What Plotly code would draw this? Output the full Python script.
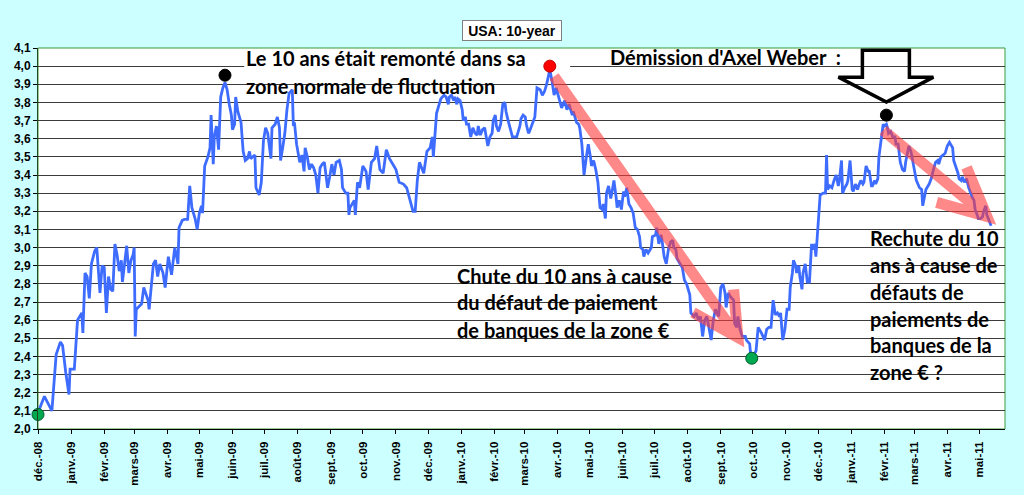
import plotly.graph_objects as go

# US 10-year yield (dates, %)
dates = [
    "2008-12-01", "2008-12-07", "2008-12-14", "2008-12-18", "2008-12-22", "2008-12-24", "2008-12-27", "2008-12-30",
    "2008-12-31", "2009-01-04", "2009-01-07", "2009-01-09", "2009-01-11", "2009-01-12", "2009-01-14", "2009-01-16",
    "2009-01-18", "2009-01-20", "2009-01-21", "2009-01-23", "2009-01-25", "2009-01-28", "2009-01-30", "2009-02-01",
    "2009-02-03", "2009-02-05", "2009-02-07", "2009-02-09", "2009-02-11", "2009-02-13", "2009-02-15", "2009-02-17",
    "2009-02-18", "2009-02-19", "2009-02-22", "2009-02-24", "2009-02-26", "2009-02-28", "2009-03-01", "2009-03-02",
    "2009-03-03", "2009-03-08", "2009-03-10", "2009-03-14", "2009-03-15", "2009-03-19", "2009-03-21", "2009-03-23",
    "2009-03-25", "2009-03-28", "2009-03-30", "2009-04-02", "2009-04-05", "2009-04-07", "2009-04-08", "2009-04-11",
    "2009-04-12", "2009-04-15", "2009-04-19", "2009-04-20", "2009-04-22", "2009-04-24", "2009-04-27", "2009-04-29",
    "2009-05-01", "2009-05-03", "2009-05-04", "2009-05-06", "2009-05-09", "2009-05-11", "2009-05-12", "2009-05-14",
    "2009-05-15", "2009-05-17", "2009-05-19", "2009-05-21", "2009-05-23", "2009-05-25", "2009-05-27", "2009-05-29",
    "2009-05-31", "2009-06-01", "2009-06-03", "2009-06-04", "2009-06-06", "2009-06-08", "2009-06-09", "2009-06-11",
    "2009-06-13", "2009-06-15", "2009-06-17", "2009-06-18", "2009-06-20", "2009-06-22", "2009-06-23", "2009-06-26",
    "2009-06-28", "2009-06-30", "2009-07-02", "2009-07-04", "2009-07-07", "2009-07-08", "2009-07-11", "2009-07-13",
    "2009-07-15", "2009-07-16", "2009-07-18", "2009-07-20", "2009-07-22", "2009-07-24", "2009-07-27", "2009-07-28",
    "2009-07-29", "2009-07-31", "2009-08-03", "2009-08-05", "2009-08-07", "2009-08-08", "2009-08-10", "2009-08-12",
    "2009-08-14", "2009-08-16", "2009-08-18", "2009-08-20", "2009-08-22", "2009-08-24", "2009-08-26", "2009-08-29",
    "2009-08-31", "2009-09-02", "2009-09-04", "2009-09-06", "2009-09-09", "2009-09-11", "2009-09-12", "2009-09-15",
    "2009-09-17", "2009-09-18", "2009-09-19", "2009-09-23", "2009-09-24", "2009-09-26", "2009-09-28", "2009-10-01",
    "2009-10-04", "2009-10-06", "2009-10-09", "2009-10-12", "2009-10-14", "2009-10-17", "2009-10-20", "2009-10-23",
    "2009-10-26", "2009-10-29", "2009-11-01", "2009-11-04", "2009-11-08", "2009-11-11", "2009-11-14", "2009-11-17",
    "2009-11-19", "2009-11-21", "2009-11-23", "2009-11-25", "2009-11-27", "2009-11-29", "2009-11-30", "2009-12-03",
    "2009-12-05", "2009-12-06", "2009-12-07", "2009-12-09", "2009-12-12", "2009-12-13", "2009-12-16", "2009-12-18",
    "2009-12-20", "2009-12-21", "2009-12-23", "2009-12-25", "2009-12-26", "2009-12-28", "2009-12-29", "2009-12-31",
    "2010-01-02", "2010-01-03", "2010-01-05", "2010-01-06", "2010-01-08", "2010-01-10", "2010-01-12", "2010-01-14",
    "2010-01-16", "2010-01-17", "2010-01-19", "2010-01-21", "2010-01-23", "2010-01-26", "2010-01-28", "2010-01-30",
    "2010-01-31", "2010-02-02", "2010-02-03", "2010-02-05", "2010-02-07", "2010-02-09", "2010-02-11", "2010-02-12",
    "2010-02-14", "2010-02-16", "2010-02-18", "2010-02-20", "2010-02-22", "2010-02-25", "2010-02-26", "2010-02-28",
    "2010-03-02", "2010-03-03", "2010-03-05", "2010-03-06", "2010-03-08", "2010-03-09", "2010-03-11", "2010-03-13",
    "2010-03-16", "2010-03-18", "2010-03-20", "2010-03-22", "2010-03-24", "2010-03-25", "2010-03-27", "2010-03-29",
    "2010-03-31", "2010-04-03", "2010-04-05", "2010-04-08", "2010-04-10", "2010-04-12", "2010-04-15", "2010-04-16",
    "2010-04-19", "2010-04-21", "2010-04-22", "2010-04-24", "2010-04-26", "2010-04-28", "2010-04-30", "2010-05-02",
    "2010-05-03", "2010-05-05", "2010-05-07", "2010-05-09", "2010-05-11", "2010-05-13", "2010-05-14", "2010-05-16",
    "2010-05-17", "2010-05-19", "2010-05-21", "2010-05-22", "2010-05-24", "2010-05-26", "2010-05-27", "2010-05-29",
    "2010-05-31", "2010-06-02", "2010-06-03", "2010-06-05", "2010-06-07", "2010-06-09", "2010-06-11", "2010-06-13",
    "2010-06-15", "2010-06-17", "2010-06-18", "2010-06-20", "2010-06-21", "2010-06-23", "2010-06-25", "2010-06-28",
    "2010-06-29", "2010-07-02", "2010-07-03", "2010-07-05", "2010-07-07", "2010-07-08", "2010-07-10", "2010-07-12",
    "2010-07-14", "2010-07-16", "2010-07-18", "2010-07-19", "2010-07-21", "2010-07-22", "2010-07-25", "2010-07-27",
    "2010-07-29", "2010-07-31", "2010-08-03", "2010-08-04", "2010-08-07", "2010-08-09", "2010-08-11", "2010-08-13",
    "2010-08-15", "2010-08-17", "2010-08-19", "2010-08-21", "2010-08-23", "2010-08-25", "2010-08-27", "2010-08-30",
    "2010-09-01", "2010-09-03", "2010-09-05", "2010-09-06", "2010-09-08", "2010-09-10", "2010-09-13", "2010-09-14",
    "2010-09-16", "2010-09-17", "2010-09-19", "2010-09-21", "2010-09-24", "2010-09-25", "2010-09-27", "2010-09-28",
    "2010-09-29", "2010-10-01", "2010-10-04", "2010-10-06", "2010-10-09", "2010-10-12", "2010-10-14", "2010-10-16",
    "2010-10-18", "2010-10-20", "2010-10-22", "2010-10-24", "2010-10-26", "2010-10-27", "2010-10-29", "2010-10-31",
    "2010-11-02", "2010-11-04", "2010-11-05", "2010-11-07", "2010-11-08", "2010-11-10", "2010-11-11", "2010-11-13",
    "2010-11-14", "2010-11-16", "2010-11-17", "2010-11-19", "2010-11-21", "2010-11-23", "2010-11-25", "2010-11-26",
    "2010-11-28", "2010-11-29", "2010-12-01", "2010-12-02", "2010-12-03", "2010-12-06", "2010-12-08", "2010-12-09",
    "2010-12-10", "2010-12-12", "2010-12-14", "2010-12-16", "2010-12-18", "2010-12-20", "2010-12-21", "2010-12-23",
    "2010-12-24", "2010-12-26", "2010-12-28", "2010-12-29", "2010-12-31", "2011-01-02", "2011-01-03", "2011-01-05",
    "2011-01-07", "2011-01-08", "2011-01-10", "2011-01-12", "2011-01-13", "2011-01-15", "2011-01-17", "2011-01-18",
    "2011-01-20", "2011-01-21", "2011-01-23", "2011-01-24", "2011-01-26", "2011-01-27", "2011-01-29", "2011-01-31",
    "2011-02-01", "2011-02-03", "2011-02-04", "2011-02-05", "2011-02-07", "2011-02-09", "2011-02-11", "2011-02-12",
    "2011-02-14", "2011-02-15", "2011-02-16", "2011-02-18", "2011-02-20", "2011-02-21", "2011-02-23", "2011-02-24",
    "2011-02-26", "2011-02-27", "2011-02-28", "2011-03-02", "2011-03-03", "2011-03-06", "2011-03-08", "2011-03-09",
    "2011-03-11", "2011-03-12", "2011-03-15", "2011-03-17", "2011-03-19", "2011-03-21", "2011-03-23", "2011-03-24",
    "2011-03-26", "2011-03-28", "2011-03-30", "2011-04-01", "2011-04-03", "2011-04-04", "2011-04-06", "2011-04-07",
    "2011-04-09", "2011-04-11", "2011-04-12", "2011-04-14", "2011-04-15", "2011-04-17", "2011-04-19", "2011-04-21",
    "2011-04-23", "2011-04-24", "2011-04-26", "2011-04-27", "2011-04-29", "2011-04-30", "2011-05-02", "2011-05-04",
    "2011-05-05", "2011-05-07", "2011-05-08", "2011-05-10", "2011-05-12",
]
yields = [
    2.09, 2.18, 2.10, 2.41, 2.48, 2.46, 2.31, 2.19,
    2.33, 2.33, 2.60, 2.62, 2.64, 2.53, 2.86, 2.84,
    2.72, 2.91, 2.93, 2.98, 3.00, 2.75, 2.90, 2.89,
    2.64, 2.84, 2.77, 2.76, 3.02, 2.96, 2.87, 2.93,
    2.81, 2.86, 3.01, 2.86, 2.93, 2.96, 3.00, 2.51,
    2.66, 2.69, 2.78, 2.71, 2.66, 2.91, 2.93, 2.84,
    2.91, 2.86, 2.78, 2.95, 2.85, 2.95, 3.00, 2.91,
    3.11, 3.15, 3.16, 3.15, 3.34, 3.22, 3.16, 3.10,
    3.19, 3.23, 3.19, 3.45, 3.50, 3.55, 3.73, 3.46,
    3.61, 3.67, 3.54, 3.83, 3.88, 3.91, 3.87, 3.79,
    3.73, 3.65, 3.68, 3.83, 3.75, 3.71, 3.69, 3.53,
    3.48, 3.49, 3.53, 3.49, 3.50, 3.51, 3.33, 3.29,
    3.36, 3.59, 3.66, 3.63, 3.49, 3.66, 3.68, 3.72,
    3.66, 3.48, 3.55, 3.63, 3.76, 3.85, 3.87, 3.67,
    3.69, 3.57, 3.47, 3.51, 3.42, 3.55, 3.50, 3.43,
    3.46, 3.44, 3.40, 3.30, 3.44, 3.46, 3.47, 3.33,
    3.39, 3.46, 3.40, 3.47, 3.48, 3.43, 3.33, 3.30,
    3.30, 3.18, 3.22, 3.26, 3.18, 3.36, 3.33, 3.45,
    3.42, 3.32, 3.47, 3.49, 3.56, 3.43, 3.41, 3.54,
    3.49, 3.46, 3.43, 3.36, 3.35, 3.33, 3.26, 3.20,
    3.20, 3.37, 3.47, 3.44, 3.41, 3.49, 3.53, 3.55,
    3.61, 3.50, 3.59, 3.74, 3.80, 3.82, 3.84, 3.83,
    3.79, 3.83, 3.84, 3.81, 3.83, 3.79, 3.82, 3.81,
    3.76, 3.70, 3.72, 3.68, 3.68, 3.61, 3.66, 3.63,
    3.62, 3.67, 3.62, 3.65, 3.66, 3.56, 3.61, 3.63,
    3.70, 3.73, 3.67, 3.64, 3.68, 3.79, 3.80, 3.75,
    3.70, 3.65, 3.61, 3.61, 3.61, 3.67, 3.71, 3.73,
    3.72, 3.68, 3.63, 3.64, 3.67, 3.69, 3.72, 3.88,
    3.87, 3.84, 3.86, 3.90, 3.96, 3.98, 3.92, 3.84,
    3.88, 3.81, 3.77, 3.81, 3.76, 3.79, 3.73, 3.75,
    3.69, 3.68, 3.66, 3.57, 3.40, 3.49, 3.57, 3.50,
    3.45, 3.48, 3.43, 3.36, 3.22, 3.21, 3.24, 3.16,
    3.30, 3.34, 3.27, 3.30, 3.37, 3.28, 3.22, 3.26,
    3.21, 3.31, 3.28, 3.33, 3.24, 3.22, 3.19, 3.11,
    3.10, 3.06, 3.00, 2.99, 2.95, 2.99, 2.97, 3.00,
    3.06, 3.07, 3.11, 3.02, 3.07, 3.04, 2.95, 2.91,
    2.99, 3.03, 3.04, 3.00, 2.99, 2.94, 2.91, 2.89,
    2.82, 2.80, 2.74, 2.64, 2.62, 2.64, 2.60, 2.62,
    2.51, 2.60, 2.62, 2.56, 2.49, 2.60, 2.66, 2.62,
    2.78, 2.80, 2.75, 2.67, 2.75, 2.73, 2.71, 2.58,
    2.56, 2.62, 2.55, 2.51, 2.51, 2.49, 2.48, 2.47,
    2.41, 2.40, 2.43, 2.56, 2.53, 2.49, 2.55, 2.56,
    2.56, 2.71, 2.63, 2.64, 2.62, 2.64, 2.49, 2.55,
    2.66, 2.66, 2.78, 2.86, 2.93, 2.90, 2.86, 2.90,
    2.84, 2.77, 2.86, 2.91, 2.81, 2.81, 3.02, 2.99,
    3.02, 2.95, 3.12, 3.23, 3.29, 3.30, 3.30, 3.51,
    3.32, 3.34, 3.33, 3.37, 3.40, 3.34, 3.37, 3.48,
    3.30, 3.33, 3.35, 3.37, 3.48, 3.32, 3.31, 3.35,
    3.32, 3.34, 3.37, 3.35, 3.36, 3.45, 3.42, 3.42,
    3.34, 3.34, 3.37, 3.35, 3.38, 3.50, 3.60, 3.68,
    3.67, 3.68, 3.66, 3.63, 3.64, 3.61, 3.61, 3.57,
    3.57, 3.53, 3.47, 3.43, 3.42, 3.47, 3.52, 3.56,
    3.53, 3.50, 3.45, 3.41, 3.37, 3.33, 3.32, 3.23,
    3.28, 3.32, 3.35, 3.38, 3.43, 3.47, 3.48, 3.46,
    3.50, 3.51, 3.52, 3.56, 3.58, 3.57, 3.55, 3.48,
    3.45, 3.41, 3.38, 3.37, 3.39, 3.36, 3.38, 3.33,
    3.30, 3.28, 3.26, 3.21, 3.18, 3.16, 3.16, 3.17,
    3.20, 3.23, 3.18, 3.15, 3.12,
]

# highlighted points: start, first peak, high, low, Weber resignation
dot_dates = ["2008-12-01", "2009-05-25", "2010-03-25", "2010-09-30", "2011-02-03"]
dot_values = [2.08, 3.95, 4.00, 2.39, 3.73]
dot_fill = ["#00A84F", "black", "#FF0000", "#00A84F", "black"]
dot_edge = ["#005A2A", "black", "#C00000", "#005A2A", "black"]

month_ticks = [
    "2008-12-01", "2009-01-01", "2009-02-01", "2009-03-01", "2009-04-01", "2009-05-01",
    "2009-06-01", "2009-07-01", "2009-08-01", "2009-09-01", "2009-10-01", "2009-11-01",
    "2009-12-01", "2010-01-01", "2010-02-01", "2010-03-01", "2010-04-01", "2010-05-01",
    "2010-06-01", "2010-07-01", "2010-08-01", "2010-09-01", "2010-10-01", "2010-11-01",
    "2010-12-01", "2011-01-01", "2011-02-01", "2011-03-01", "2011-04-01", "2011-05-01",
]
month_labels = [
    "déc.-08", "janv.-09", "févr.-09", "mars-09", "avr.-09", "mai-09",
    "juin-09", "juil.-09", "août-09", "sept.-09", "oct.-09", "nov.-09",
    "déc.-09", "janv.-10", "févr.-10", "mars-10", "avr.-10", "mai-10",
    "juin-10", "juil.-10", "août-10", "sept.-10", "oct.-10", "nov.-10",
    "déc.-10", "janv.-11", "févr.-11", "mars-11", "avr.-11", "mai-11",
]

# comment boxes, one entry per text line: (left date, y level, text)
notes = [
    ("2009-06-12", 4.046, "Le 10 ans était remonté dans sa"),
    ("2009-06-12", 3.889, "zone normale de fluctuation"),
    ("2010-05-18", 4.049, "Démission d'Axel Weber\u00a0 :"),
    ("2009-12-26", 2.843, "Chute du 10 ans à cause"),
    ("2009-12-26", 2.700, "du défaut de paiement"),
    ("2009-12-26", 2.546, "de banques de la zone €"),
    ("2011-01-17", 3.052, "Rechute du 10"),
    ("2011-01-17", 2.904, "ans à cause de"),
    ("2011-01-17", 2.755, "défauts de"),
    ("2011-01-17", 2.607, "paiements de"),
    ("2011-01-17", 2.464, "banques de la"),
    ("2011-01-17", 2.315, "zone € ?"),
]

# red trend arrows: tail, tip and the two ends of the open head
arrow_tail = [("2010-03-29", 3.944), ("2011-01-31", 3.647)]
arrow_tip = [("2010-09-17", 2.505), ("2011-05-08", 3.172)]
arrow_wing_a = [("2010-08-06", 2.642), ("2011-03-22", 3.249)]
arrow_wing_b = [("2010-09-13", 2.769), ("2011-04-19", 3.442)]

fig = go.Figure()

fig.add_trace(go.Scatter(x=dates, y=yields, mode="lines",
                         line=dict(color="#3D6CFF", width=2.8),
                         hoverinfo="x+y", showlegend=False))

fig.add_trace(go.Scatter(x=dot_dates, y=dot_values, mode="markers",
                         marker=dict(size=12, color=dot_fill,
                                     line=dict(color=dot_edge, width=1)),
                         cliponaxis=False, showlegend=False))

for tail, tip, wa, wb in zip(arrow_tail, arrow_tip, arrow_wing_a, arrow_wing_b):
    p = "M{0[0]},{0[1]} L{1[0]},{1[1]} M{2[0]},{2[1]} L{1[0]},{1[1]} L{3[0]},{3[1]}".format(tail, tip, wa, wb)
    fig.add_shape(type="path", xref="x", yref="y", path=p,
                  line=dict(color="#FF3B3B", width=11), opacity=0.6, layer="above")

for x, y, txt in notes:
    fig.add_annotation(x=x, y=y, xref="x", yref="y", text=txt, showarrow=False,
                       xanchor="left", yanchor="middle",
                       font=dict(family="Lato", size=20, color="black", weight="bold"))

fig.add_annotation(x=0.4903, y=1.0464, xref="paper", yref="paper", text="USA: 10-year",
                   showarrow=False, xanchor="center", yanchor="middle",
                   font=dict(family="Liberation Sans", size=14, color="black", weight="bold"),
                   bgcolor="white", bordercolor="#808080", borderwidth=1, borderpad=1,
                   width=96, height=17)

# text box hiding the 4,0 gridline behind the first comment
fig.add_shape(type="rect", xref="x", yref="y", x0="2009-06-12", x1="2010-04-13",
              y0=3.978, y1=4.095, fillcolor="white", line_width=0, layer="between")

# hollow arrow pointing at the Weber point
fig.add_shape(type="path", xref="x", yref="y", xsizemode="pixel", ysizemode="pixel",
              xanchor=dot_dates[4], yanchor=dot_values[4],
              path="M-24,65 L23,65 L23,38 L47,38 L0,13 L-48,38 L-24,38 Z",
              line=dict(color="black", width=3.5), layer="above")

# green frame of the plot area
fig.add_shape(type="rect", xref="paper", yref="paper", x0=0, x1=1, y0=0, y1=1,
              line=dict(color="#3A9A3A", width=1), layer="below")

fig.update_layout(
    width=1024, height=495,
    margin=dict(l=38, r=19, t=48, b=66),
    paper_bgcolor="#CCFFFF", plot_bgcolor="white",
    separators=", ",
    showlegend=False,
    xaxis=dict(type="date", range=["2008-12-01", "2011-05-25"], automargin=False,
               tickmode="array", tickvals=month_ticks, ticktext=month_labels,
               tickangle=-90, ticks="outside", ticklen=4, tickcolor="black",
               showgrid=False, showline=True, linecolor="black", linewidth=1,
               ticklabelstandoff=3,
               tickfont=dict(family="Liberation Sans", size=11.5, color="black", weight="bold")),
    yaxis=dict(range=[2.0, 4.1], dtick=0.1, tick0=2.0, tickformat=".1f", automargin=False,
               ticks="outside", ticklen=4, tickcolor="black",
               showgrid=True, gridcolor="#3C3C3C", gridwidth=1, zeroline=False,
               showline=True, linecolor="#1E4A1E", linewidth=1,
               tickfont=dict(family="Liberation Sans", size=12, color="black", weight="bold")),
)

# page body margin would shift the figure inside the window
fig.write_html("out.html", config={"displayModeBar": False},
               post_script="document.body.style.margin='0';")
